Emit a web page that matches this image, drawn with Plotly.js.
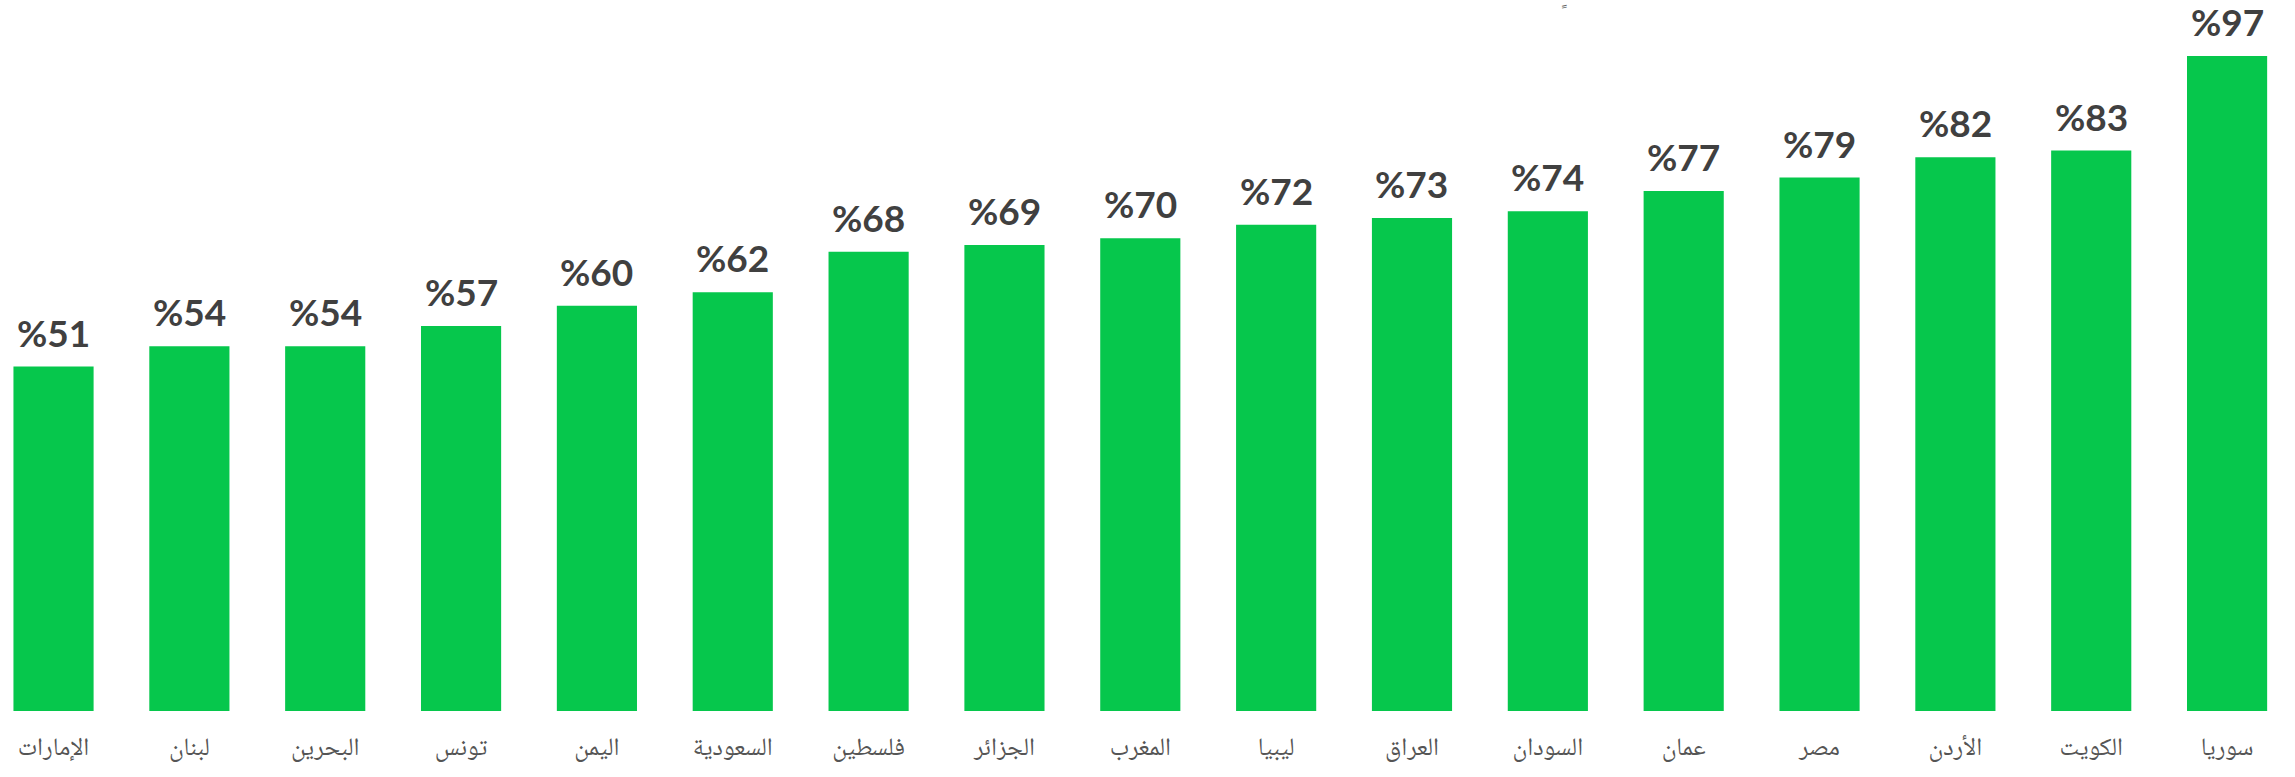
<!DOCTYPE html>
<html>
<head>
<meta charset="utf-8">
<script src="https://cdn.plot.ly/plotly-3.0.1.min.js"></script>
<style>
  html, body { margin: 0; padding: 0; background: #ffffff; }
  #chart { width: 2295px; height: 777px; }
</style>
</head>
<body>
<div id="chart"></div>
<script>
// Data
const countries = ["الإمارات", "لبنان", "البحرين", "تونس", "اليمن", "السعودية", "فلسطين", "الجزائر", "المغرب", "ليبيا", "العراق", "السودان", "عمان", "مصر", "الأردن", "الكويت", "سوريا"];
const values = [51, 54, 54, 57, 60, 62, 68, 69, 70, 72, 73, 74, 77, 79, 82, 83, 97];
const valueLabels = values.map(v => "%" + v);

const trace = {
  type: "bar",
  x: countries,
  y: values,
  marker: { color: "#06C74C", line: { width: 0 } },
  hoverinfo: "skip"
};

const annotations = countries.map((c, i) => ({
  x: c,
  y: values[i],
  xref: "x",
  yref: "y",
  text: valueLabels[i],
  showarrow: false,
  xanchor: "center",
  yanchor: "bottom",
  yshift: 10,
  font: { family: "Lato, 'Open Sans', sans-serif", size: 37, color: "#404040", weight: 700 }
}));

annotations.push({
  xref: "paper", yref: "paper",
  x: 1565 / 2295, y: 1 - 12 / 711,
  text: "\uFE70",
  showarrow: false,
  xanchor: "center", yanchor: "middle",
  font: { family: "'DejaVu Sans', sans-serif", size: 16, color: "#666666" }
});

const layout = {
  width: 2295,
  height: 777,
  margin: { l: 0, r: 0, t: 0, b: 66, pad: 0 },
  paper_bgcolor: "#ffffff",
  plot_bgcolor: "#ffffff",
  bargap: 0.41,
  showlegend: false,
  xaxis: {
    type: "category",
    range: [-0.394, 16.5],
    showgrid: false,
    zeroline: false,
    showline: false,
    ticks: "",
    tickfont: { family: "'Noto Naskh Arabic', 'Noto Sans Arabic', 'DejaVu Sans', sans-serif", size: 25, color: "#555555" },
    ticklabelstandoff: 18,
    fixedrange: true
  },
  yaxis: {
    range: [0, 105.29],
    showgrid: false,
    zeroline: false,
    showline: false,
    showticklabels: false,
    ticks: "",
    fixedrange: true
  },
  annotations: annotations
};

Plotly.newPlot("chart", [trace], layout, { displayModeBar: false, staticPlot: true });
</script>
</body>
</html>
